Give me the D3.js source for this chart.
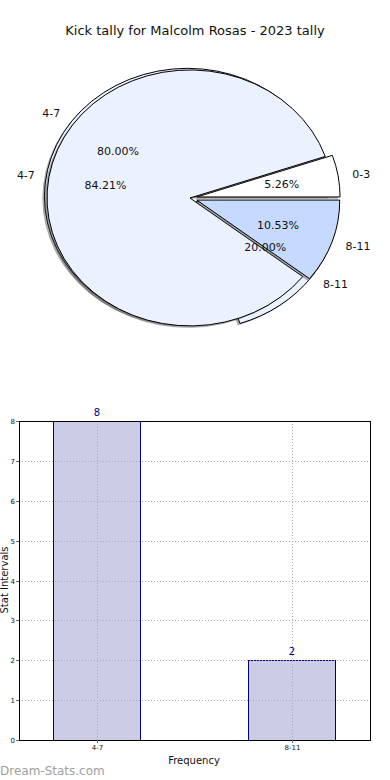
<!DOCTYPE html>
<meta charset="utf-8">
<style>
body { margin: 0; background: #fff; }
svg text { font-family: "DejaVu Sans", sans-serif; }
</style>
<body>
<svg width="390" height="780"></svg>
<script src="https://d3js.org/d3.v7.min.js"></script>
<script>

// pie: two overlapping pies, as in the original picture
var pieA_labels = ["4-7", "8-11"];
var pieA_values = [8, 2];
var pieB_labels = ["0-3", "4-7", "8-11"];
var pieB_values = [1, 16, 2];

// bar chart
var bar_labels = ["4-7", "8-11"];
var bar_values = [8, 2];
var y_ticks = [0, 1, 2, 3, 4, 5, 6, 7, 8];

var svg = d3.select("svg");

svg.append("text").attr("x", 195).attr("y", 35)
  .attr("text-anchor", "middle").style("font-size", "13px").attr("fill", "#111")
  .text("Kick tally for Malcolm Rosas - 2023 tally");

// ---- pie ----
var cx = 190, cy = 198, rx = 143, ry = 128;
var pie = d3.pie().sort(null).startAngle(Math.PI / 2).endAngle(Math.PI / 2 - 2 * Math.PI);
var arc = d3.arc().innerRadius(0).outerRadius(1);
var pieLayer = svg.append("g");
var textLayer = svg.append("g");

function drawPie(labels, values, colors, explode) {
  var arcs = pie(values);
  var g = pieLayer.append("g").attr("transform", "translate(" + cx + "," + cy + ") scale(" + rx + "," + ry + ")");
  arcs.forEach(function(d, i) {
    var mid = (d.startAngle + d.endAngle) / 2;
    var ux = Math.sin(mid), uy = -Math.cos(mid);
    var ex = explode[i];
    // shadow, then wedge
    g.append("path").attr("d", arc(d))
      .attr("transform", "translate(" + (ux * ex - 0.015) + "," + (uy * ex + 0.015) + ")")
      .attr("fill", "#444").attr("fill-opacity", 0.45);
    g.append("path").attr("d", arc(d))
      .attr("transform", "translate(" + (ux * ex) + "," + (uy * ex) + ")")
      .attr("fill", colors[i]).attr("stroke", "#000").attr("stroke-width", 1)
      .attr("vector-effect", "non-scaling-stroke").attr("stroke-linejoin", "miter");
    var pct = (100 * d.value / d3.sum(values)).toFixed(2) + "%";
    textLayer.append("text")
      .attr("x", cx + rx * (ux * (0.6 + ex))).attr("y", cy + ry * (uy * (0.6 + ex)))
      .attr("text-anchor", "middle").attr("dy", "0.35em").style("font-size", "11px").attr("fill", "#111")
      .text(pct);
    textLayer.append("text")
      .attr("x", cx + rx * (ux * (1.1 + ex))).attr("y", cy + ry * (uy * (1.1 + ex)))
      .attr("text-anchor", ux > 0 ? "start" : "end").attr("dy", "0.35em")
      .style("font-size", "11px").attr("fill", "#111")
      .text(labels[i]);
  });
}

drawPie(pieA_labels, pieA_values, ["#ebf1ff", "#ebf1ff"], [0.022, 0.05]);
drawPie(pieB_labels, pieB_values, ["#ffffff", "#ebf1ff", "#c6d9ff"], [0.05, 0, 0.05]);

// ---- bar chart ----
var axLeft = 19, axRight = 370, axTop = 421, axBottom = 740;
var x = d3.scaleLinear().domain([-0.4, bar_labels.length - 0.6]).range([axLeft, axRight]);
var y = d3.scaleLinear().domain([0, 8]).range([axBottom, axTop]);
var bw = 0.446;
var chart = svg.append("g");

chart.selectAll("rect.bar").data(bar_values).join("rect").attr("class", "bar")
  .attr("x", function(d, i) { return Math.round(x(i - bw / 2)) - 0.5; })
  .attr("width", function() { return Math.round(x(bw) - x(0)); })
  .attr("y", function(d) { return Math.round(y(d)) + 0.5; })
  .attr("height", function(d) { return Math.round(y(0)) - Math.round(y(d)); })
  .attr("fill", "#ccccE6").attr("stroke", "#000080").attr("stroke-width", 1);

// grid over the bars
chart.selectAll("line.hgrid").data(y_ticks).join("line").attr("class", "hgrid")
  .attr("x1", axLeft).attr("x2", axRight)
  .attr("y1", function(d) { return Math.round(y(d)) + 0.5; })
  .attr("y2", function(d) { return Math.round(y(d)) + 0.5; })
  .attr("stroke", "#aaa").attr("stroke-dasharray", "1,2");
chart.selectAll("line.vgrid").data(bar_labels).join("line").attr("class", "vgrid")
  .attr("x1", function(d, i) { return Math.round(x(i)) + 0.5; })
  .attr("x2", function(d, i) { return Math.round(x(i)) + 0.5; })
  .attr("y1", axTop).attr("y2", axBottom)
  .attr("stroke", "#aaa").attr("stroke-dasharray", "1,2");

chart.append("rect").attr("x", axLeft + 0.5).attr("y", axTop + 0.5)
  .attr("width", axRight - axLeft).attr("height", axBottom - axTop)
  .attr("fill", "none").attr("stroke", "#000").attr("stroke-width", 1);

// ticks
y_ticks.forEach(function(t) {
  var yy = Math.round(y(t)) + 0.5;
  chart.append("line").attr("x1", axLeft - 3).attr("x2", axLeft).attr("y1", yy).attr("y2", yy).attr("stroke", "#666");
  chart.append("text").attr("x", axLeft - 4).attr("y", yy).attr("dy", "0.35em")
    .attr("text-anchor", "end").style("font-size", "7px").attr("fill", "#111").text(t);
});
bar_labels.forEach(function(l, i) {
  var xx = Math.round(x(i)) + 0.5;
  chart.append("line").attr("x1", xx).attr("x2", xx).attr("y1", axBottom).attr("y2", axBottom + 3).attr("stroke", "#666");
  chart.append("text").attr("x", xx).attr("y", axBottom + 10)
    .attr("text-anchor", "middle").style("font-size", "7px").attr("fill", "#111").text(l);
});

// value labels
chart.selectAll("text.val").data(bar_values).join("text").attr("class", "val")
  .attr("x", function(d, i) { return x(i); })
  .attr("y", function(d) { return y(d) - 5; })
  .attr("text-anchor", "middle").style("font-size", "10px").attr("fill", "#000080")
  .text(function(d) { return d; });

svg.append("text").attr("x", 194).attr("y", 764).attr("text-anchor", "middle")
  .style("font-size", "10px").attr("fill", "#111").text("Frequency");
svg.append("text").attr("transform", "translate(8,580) rotate(-90)").attr("text-anchor", "middle")
  .style("font-size", "10px").attr("fill", "#111").text("Stat Intervals");

svg.append("text").attr("x", 0).attr("y", 775).style("font-size", "12px")
  .attr("fill", "#a0a0a0").text("Dream-Stats.com");

</script>
</body>
